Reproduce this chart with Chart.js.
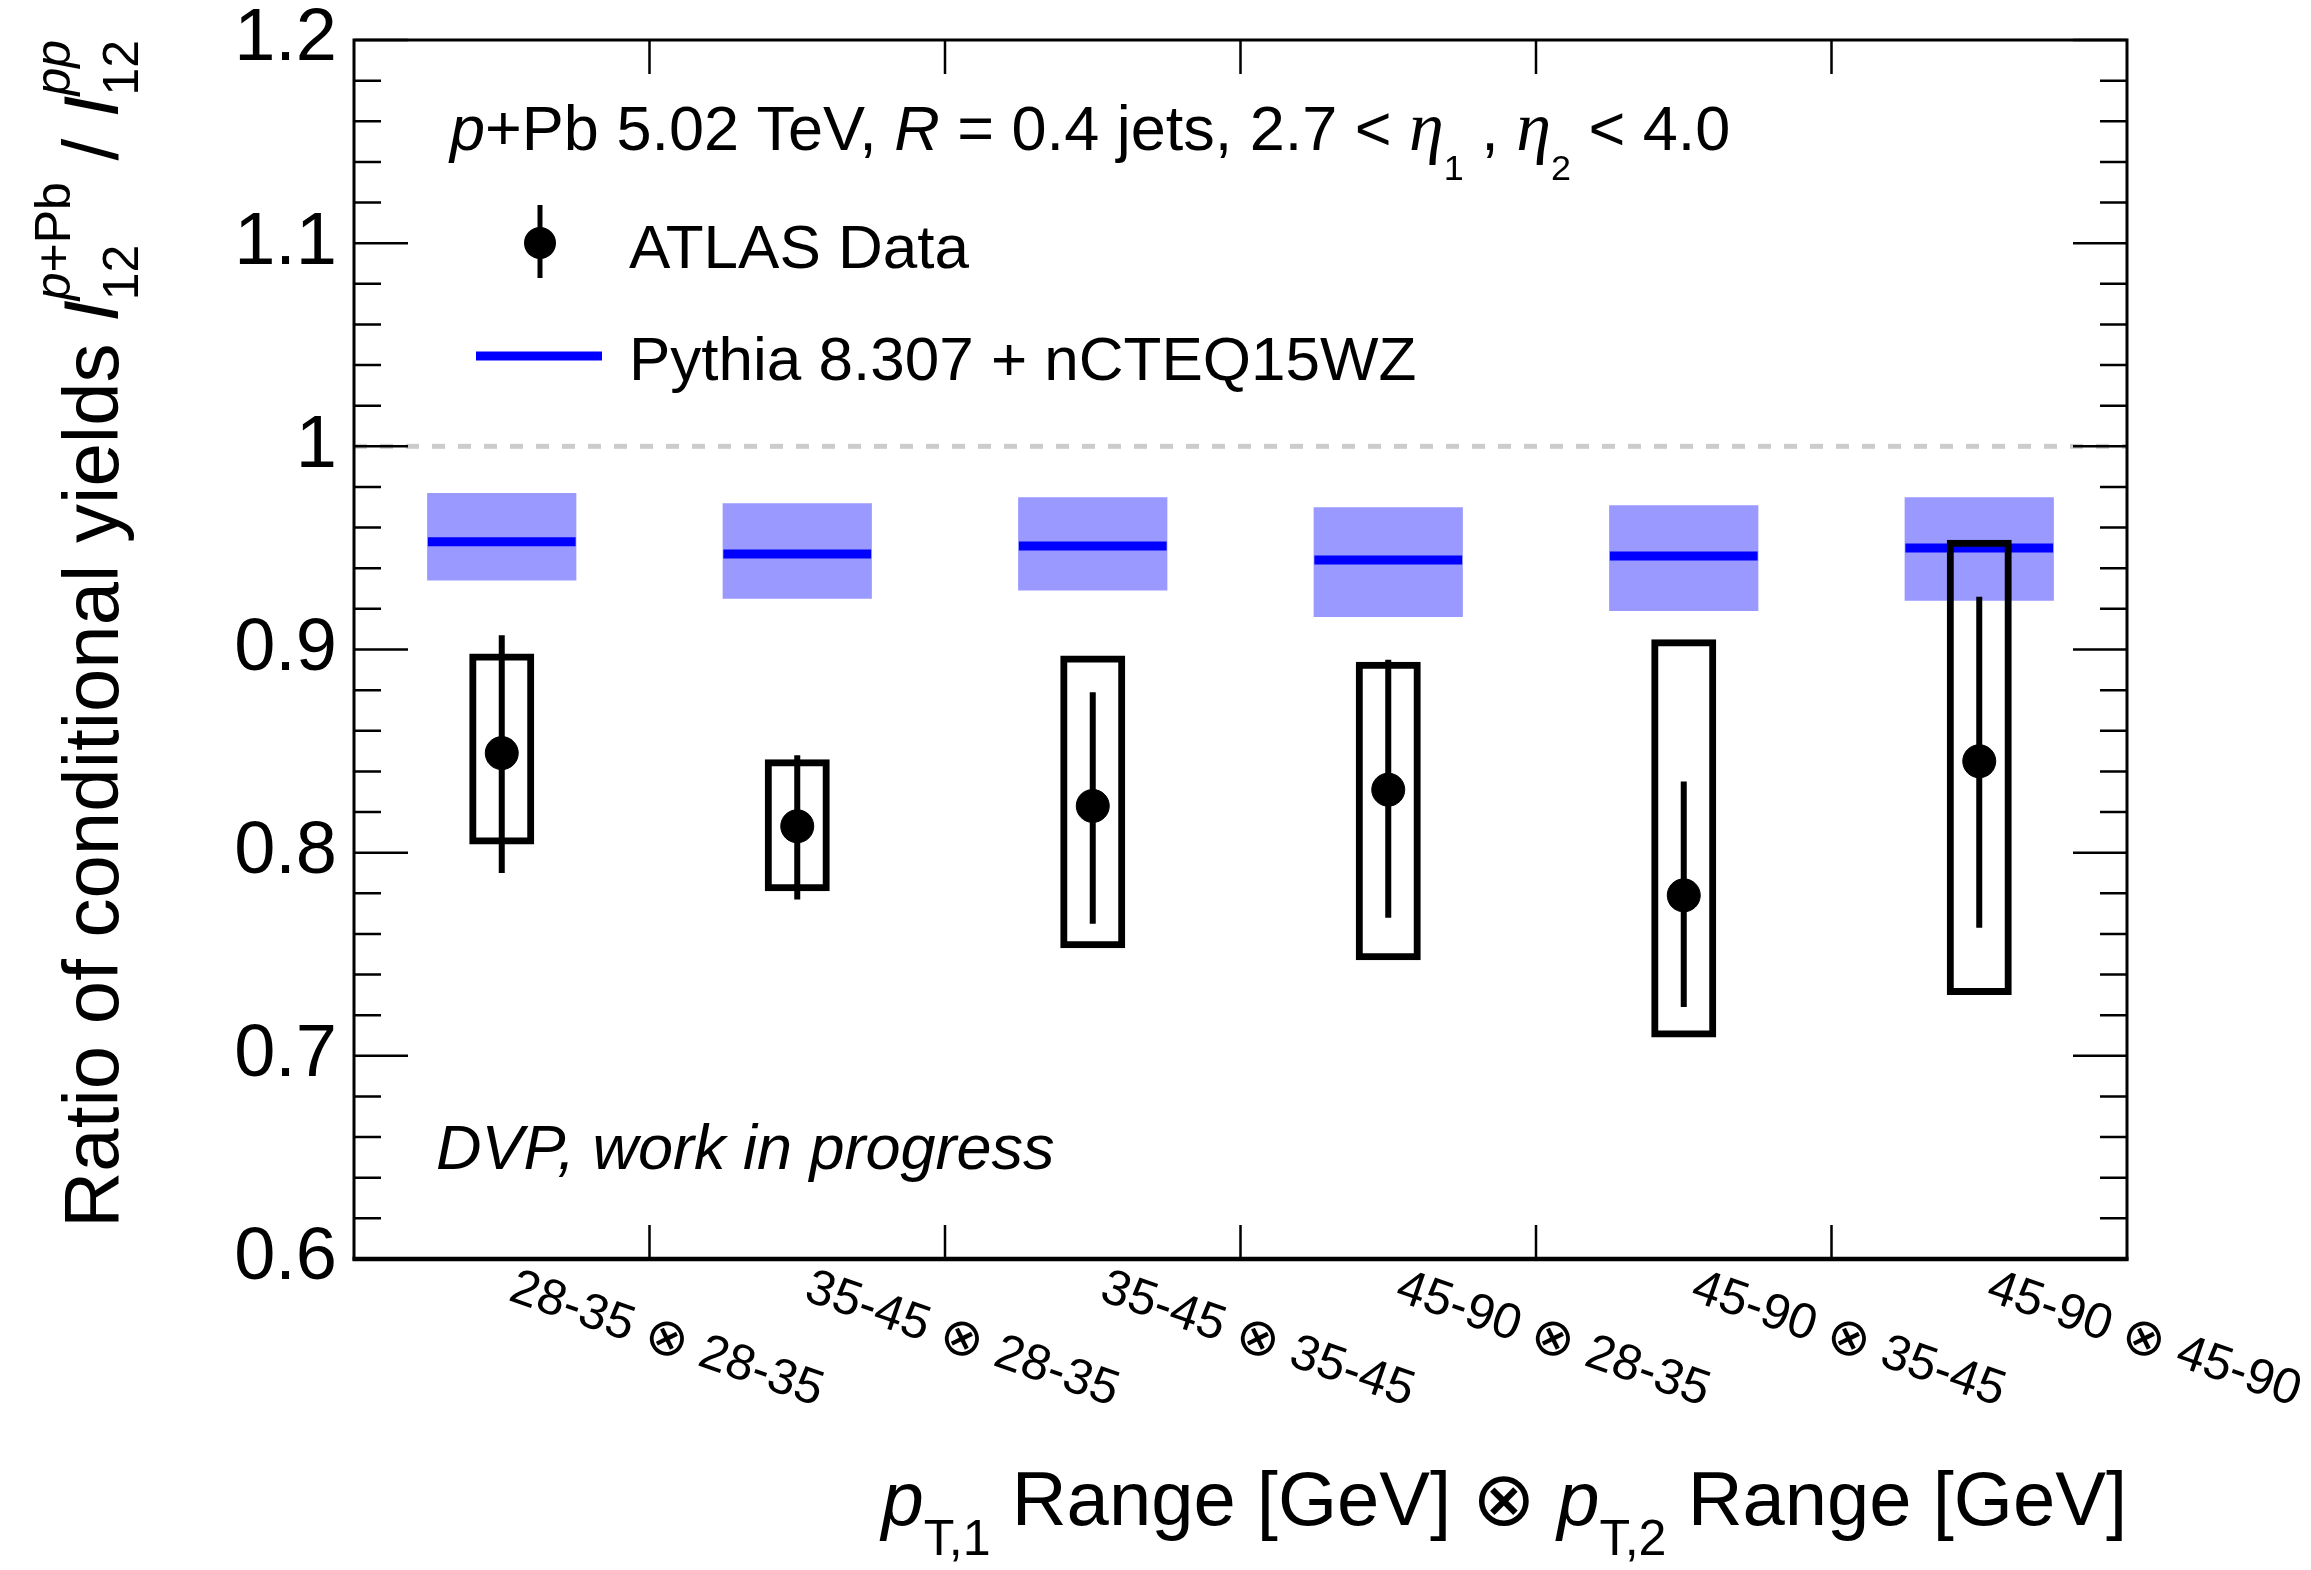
<!DOCTYPE html>
<html>
<head>
<meta charset="utf-8">
<script src="https://cdn.jsdelivr.net/npm/chart.js@4.4.1/dist/chart.umd.min.js"></script>
<style>
  html, body { margin: 0; padding: 0; background: #fff; }
  #wrap { width: 2311px; height: 1570px; }
</style>
</head>
<body>
<div id="wrap"><canvas id="chart"></canvas></div>
<script>
// pT bins (x categories)
const categories = ["28-35 ⊗ 28-35", "35-45 ⊗ 28-35", "35-45 ⊗ 35-45", "45-90 ⊗ 28-35", "45-90 ⊗ 35-45", "45-90 ⊗ 45-90"];

// ATLAS data
const dataValue = [0.849, 0.813, 0.823, 0.831, 0.779, 0.845];
const statLow   = [0.790, 0.777, 0.765, 0.768, 0.724, 0.763];
const statHigh  = [0.907, 0.848, 0.879, 0.895, 0.835, 0.926];
const systLow   = [0.804, 0.781, 0.753, 0.747, 0.709, 0.730];
const systHigh  = [0.898, 0.846, 0.897, 0.894, 0.905, 0.954];

// Pythia 8.307 + nCTEQ15WZ
const pythiaValue = [0.953, 0.947, 0.951, 0.944, 0.946, 0.950];
const pythiaLow   = [0.934, 0.925, 0.929, 0.916, 0.919, 0.924];
const pythiaHigh  = [0.977, 0.972, 0.975, 0.970, 0.971, 0.975];

// y axis
const yTicks = [0.6, 0.7, 0.8, 0.9, 1.0, 1.1, 1.2];
const yTickLabels = ["0.6", "0.7", "0.8", "0.9", "1", "1.1", "1.2"];

const FONT = '"Liberation Sans", Arial, Helvetica, sans-serif';
function font(size, it) {
    return (it ? "italic " : "") + size + "px " + FONT;
}
function otimes(size) {
    return '200 ' + size + 'px "DejaVu Sans", sans-serif';
}
const ETA = 'italic 70px "Liberation Serif", "DejaVu Serif", serif';

// text with sub/superscripts, roughly like ROOT's TLatex
function drawRich(ctx, parts, x, y, o) {
    const s = o.size * o.scale;
    const widths = parts.map(p => {
        if (p.t !== undefined) {
            ctx.font = p.f || font(o.size, p.it);
            return ctx.measureText(p.t).width;
        }
        let ws = 0, wu = 0;
        if (p.sub) { ctx.font = font(s, false); ws = ctx.measureText(p.sub).width; }
        if (p.sup) {
            p.sup.forEach(q => { ctx.font = font(s, q.it); wu += ctx.measureText(q.t).width; });
        }
        return Math.max(ws, wu);
    });
    const total = widths.reduce((a, b) => a + b, 0);
    let cx = o.align === "right" ? x - total : x;
    ctx.textAlign = "left";
    ctx.textBaseline = o.baseline || "alphabetic";
    parts.forEach((p, i) => {
        if (p.t !== undefined) {
            ctx.font = p.f || font(o.size, p.it);
            ctx.fillText(p.t, cx, y);
        } else {
            if (p.sub) { ctx.font = font(s, false); ctx.fillText(p.sub, cx, y + o.drop); }
            if (p.sup) {
                let sx = cx;
                p.sup.forEach(q => {
                    ctx.font = font(s, q.it);
                    ctx.fillText(q.t, sx, y - o.raise);
                    sx += ctx.measureText(q.t).width;
                });
            }
        }
        cx += widths[i];
    });
}

const bins = categories.map((c, i) => i + 0.5);

// horizontal model lines, one segment per bin
const modelLine = [];
pythiaValue.forEach((v, i) => {
    modelLine.push({ x: i + 0.25, y: v }, { x: i + 0.75, y: v }, { x: i + 0.75, y: null });
});
// vertical stat error bars
const statBars = [];
bins.forEach((b, i) => {
    statBars.push({ x: b, y: statLow[i] }, { x: b, y: statHigh[i] }, { x: b, y: null });
});

const atlasFrame = {
    id: "atlasFrame",
    beforeDatasetsDraw(chart) {
        const ctx = chart.ctx, a = chart.chartArea, ys = chart.scales.y;
        ctx.save();
        ctx.strokeStyle = "#cccccc";
        ctx.lineWidth = 5;
        ctx.setLineDash([13, 13]);
        ctx.beginPath();
        ctx.moveTo(a.left, ys.getPixelForValue(1));
        ctx.lineTo(a.right, ys.getPixelForValue(1));
        ctx.stroke();
        ctx.restore();
    },
    afterDraw(chart) {
        const ctx = chart.ctx, a = chart.chartArea;
        const xs = chart.scales.x, ys = chart.scales.y;
        ctx.save();
        ctx.fillStyle = "#000";
        ctx.strokeStyle = "#000";

        // ticks
        ctx.lineWidth = 2.5;
        ctx.beginPath();
        for (let k = 0; k <= 30; k++) {
            const py = ys.getPixelForValue(0.6 + k * 0.02);
            const len = k % 5 === 0 ? 54 : 27;
            ctx.moveTo(a.left, py); ctx.lineTo(a.left + len, py);
            ctx.moveTo(a.right, py); ctx.lineTo(a.right - len, py);
        }
        for (let b = 1; b < categories.length; b++) {
            const px = xs.getPixelForValue(b);
            ctx.moveTo(px, a.bottom); ctx.lineTo(px, a.bottom - 34);
            ctx.moveTo(px, a.top); ctx.lineTo(px, a.top + 34);
        }
        ctx.stroke();

        // frame
        ctx.lineWidth = 3;
        ctx.strokeRect(a.left, a.top, a.right - a.left, a.bottom - a.top);
        ctx.lineWidth = 4.5;
        ctx.beginPath();
        ctx.moveTo(a.left - 1.5, a.bottom); ctx.lineTo(a.right + 1.5, a.bottom);
        ctx.stroke();

        // y tick labels
        ctx.font = font(74, false);
        ctx.textAlign = "right";
        ctx.textBaseline = "middle";
        yTicks.forEach((v, i) => ctx.fillText(yTickLabels[i], a.left - 17, ys.getPixelForValue(v)));

        // x tick labels, slanted
        categories.forEach((c, i) => {
            const halves = c.split("⊗");
            ctx.save();
            ctx.translate(xs.getPixelForValue(bins[i]) + 18, a.bottom + 4);
            ctx.rotate(19 * Math.PI / 180);
            drawRich(ctx, [
                { t: halves[0] }, { t: "⊗", f: otimes(52) }, { t: halves[1] }
            ], 0, 0, { size: 50, scale: 1, drop: 0, raise: 0, baseline: "top" });
            ctx.restore();
        });

        // x title
        drawRich(ctx, [
            { t: "p", it: true }, { sub: "T,1" },
            { t: " Range [GeV] " }, { t: "⊗", f: otimes(76) }, { t: " " },
            { t: "p", it: true }, { sub: "T,2" },
            { t: " Range [GeV]" }
        ], a.right, 1525, { size: 76, scale: 0.66, drop: 30, raise: 0, align: "right" });

        // y title
        ctx.save();
        ctx.translate(118, a.top);
        ctx.rotate(-Math.PI / 2);
        drawRich(ctx, [
            { t: "Ratio of conditional yields " },
            { t: "I", it: true },
            { sub: "12", sup: [{ t: "p", it: true }, { t: "+Pb" }] },
            { t: " / " },
            { t: "I", it: true },
            { sub: "12", sup: [{ t: "pp", it: true }] }
        ], 0, 0, { size: 78, scale: 0.64, drop: 20, raise: 48, align: "right" });
        ctx.restore();

        // header text
        drawRich(ctx, [
            { t: "p", it: true }, { t: "+Pb 5.02 TeV, " },
            { t: "R", it: true }, { t: " = 0.4 jets, 2.7 < " },
            { t: "η", f: ETA }, { sub: "1" }, { t: " , " },
            { t: "η", f: ETA }, { sub: "2" }, { t: " < 4.0" }
        ], 450, 150, { size: 63, scale: 0.57, drop: 30, raise: 0 });

        // legend
        ctx.lineWidth = 5;
        ctx.beginPath();
        ctx.moveTo(540, 205); ctx.lineTo(540, 278);
        ctx.stroke();
        ctx.beginPath();
        ctx.arc(540, 243, 16, 0, Math.PI * 2);
        ctx.fill();
        ctx.strokeStyle = "#0000ff";
        ctx.lineWidth = 9;
        ctx.beginPath();
        ctx.moveTo(476, 356); ctx.lineTo(602, 356);
        ctx.stroke();
        ctx.font = font(62, false);
        ctx.textAlign = "left";
        ctx.textBaseline = "alphabetic";
        ctx.fillText("ATLAS Data", 629, 268);
        ctx.fillText("Pythia 8.307 + nCTEQ15WZ", 629, 380);

        ctx.font = font(63, true);
        ctx.fillText("DVP, work in progress", 436, 1169);
        ctx.restore();
    }
};

new Chart(document.getElementById("chart"), {
    type: "bar",
    data: {
        datasets: [
            {
                type: "scatter",
                label: "ATLAS Data",
                data: bins.map((b, i) => ({ x: b, y: dataValue[i] })),
                backgroundColor: "#000",
                borderColor: "#000",
                pointRadius: 16.5,
                pointHoverRadius: 16.5,
                order: 0
            },
            {
                type: "line",
                label: "stat",
                data: statBars,
                borderColor: "#000",
                borderWidth: 6,
                pointRadius: 0,
                spanGaps: false,
                fill: false,
                order: 1
            },
            {
                type: "bar",
                label: "syst",
                data: bins.map((b, i) => ({ x: b, y: [systLow[i], systHigh[i]] })),
                backgroundColor: "rgba(0,0,0,0)",
                borderColor: "#000",
                borderWidth: 7,
                borderSkipped: false,
                grouped: false,
                categoryPercentage: 1,
                barPercentage: 0.22,
                order: 2
            },
            {
                type: "line",
                label: "Pythia 8.307 + nCTEQ15WZ",
                data: modelLine,
                borderColor: "#0000ff",
                borderWidth: 9,
                pointRadius: 0,
                spanGaps: false,
                fill: false,
                order: 3
            },
            {
                type: "bar",
                label: "Pythia band",
                data: bins.map((b, i) => ({ x: b, y: [pythiaLow[i], pythiaHigh[i]] })),
                backgroundColor: "#9999ff",
                borderWidth: 0,
                grouped: false,
                categoryPercentage: 1,
                barPercentage: 0.505,
                order: 4
            }
        ]
    },
    options: {
        responsive: true,
        maintainAspectRatio: false,
        devicePixelRatio: 1,
        animation: false,
        layout: { padding: { left: 354, right: 184, top: 40, bottom: 311 } },
        plugins: { legend: { display: false }, tooltip: { enabled: false } },
        scales: {
            x: { type: "linear", min: 0, max: categories.length, offset: false, display: false },
            y: { type: "linear", min: 0.6, max: 1.2, display: false }
        }
    },
    plugins: [atlasFrame]
});
</script>
</body>
</html>
